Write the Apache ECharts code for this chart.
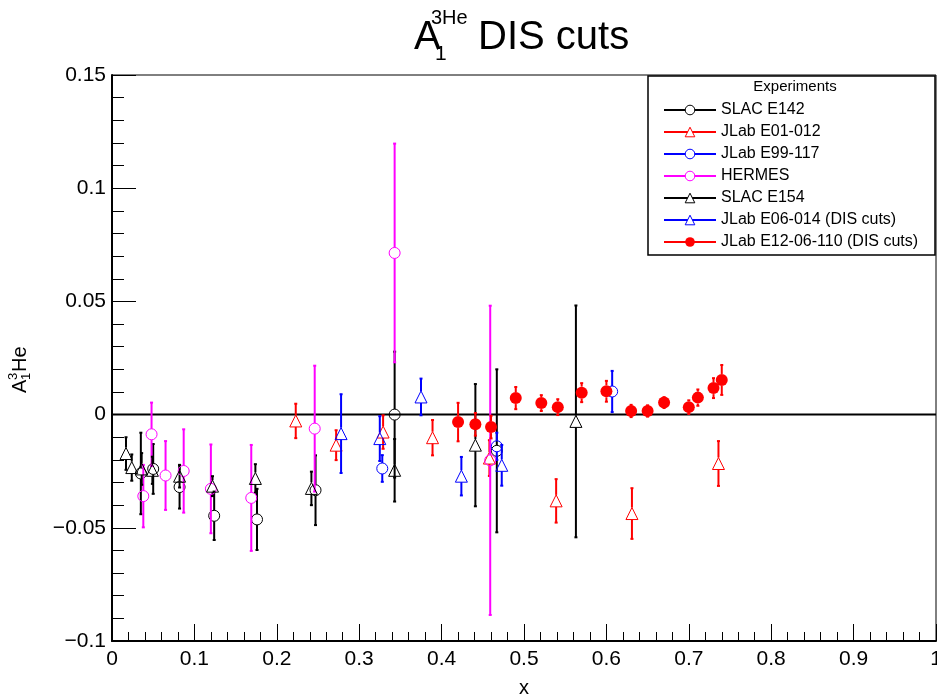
<!DOCTYPE html>
<html><head><meta charset="utf-8">
<script src="https://cdn.jsdelivr.net/npm/echarts@6/dist/echarts.min.js"></script>
<style>html,body{margin:0;padding:0;background:#fff}#c{width:937px;height:700px}</style>
</head><body><div id="c"></div>
<script>
// ---- data ----
const xTicks = [0, 0.1, 0.2, 0.3, 0.4, 0.5, 0.6, 0.7, 0.8, 0.9, 1];
const yTicks = [-0.1, -0.05, 0, 0.05, 0.1, 0.15];

const e142X = [0.035, 0.050, 0.082, 0.124, 0.176, 0.247, 0.343, 0.467];
const e142Y = [-0.026, -0.024, -0.032, -0.0447, -0.0463, -0.0334, 0.000, -0.016];
const e142E = [0.018, 0.011, 0.0095, 0.0107, 0.0135, 0.0154, 0.0278, 0.036];

const e01X = [0.223, 0.272, 0.329, 0.389, 0.458, 0.539, 0.631, 0.736];
const e01Y = [-0.0028, -0.0135, -0.0077, -0.0102, -0.0192, -0.0381, -0.0437, -0.0216];
const e01E = [0.0076, 0.0066, 0.0074, 0.0078, 0.0079, 0.0096, 0.0112, 0.0099];

const e99X = [0.328, 0.467, 0.607];
const e99Y = [-0.0238, -0.014, 0.0102];
const e99E = [0.0059, 0.006, 0.0091];

const hermesX = [0.038, 0.048, 0.065, 0.087, 0.120, 0.169, 0.246, 0.343, 0.459];
const hermesY = [-0.036, -0.0087, -0.0269, -0.0249, -0.0328, -0.0368, -0.0062, 0.0714, -0.0202];
const hermesE = [0.0138, 0.014, 0.0152, 0.0184, 0.0196, 0.0234, 0.0278, 0.0483, 0.0683];

const e154X = [0.017, 0.024, 0.036, 0.049, 0.082, 0.122, 0.174, 0.242, 0.343, 0.441, 0.563];
const e154Y = [-0.0172, -0.0234, -0.024, -0.0246, -0.0272, -0.0316, -0.0282, -0.0326, -0.0246, -0.0135, -0.003];
const e154E = [0.0072, 0.0058, 0.007, 0.006, 0.005, 0.0044, 0.0063, 0.0074, 0.0138, 0.027, 0.0512];

const e06X = [0.278, 0.325, 0.375, 0.424, 0.473];
const e06Y = [-0.0084, -0.0106, 0.0078, -0.0272, -0.0224];
const e06E = [0.0174, 0.0099, 0.0081, 0.0085, 0.009];

const e12X = [0.420, 0.441, 0.460, 0.490, 0.521, 0.541, 0.570, 0.600, 0.630, 0.650, 0.670, 0.700, 0.711, 0.730, 0.740];
const e12Y = [-0.0033, -0.0043, -0.0055, 0.0073, 0.0051, 0.0033, 0.0097, 0.0103, 0.0016, 0.0016, 0.0053, 0.0033, 0.0075, 0.0117, 0.0153];
const e12E = [0.0085, 0.005, 0.005, 0.0049, 0.0035, 0.0035, 0.0042, 0.0046, 0.0027, 0.0025, 0.0024, 0.003, 0.0036, 0.0044, 0.0066];

const FONT = '"Liberation Sans", Arial, Helvetica, sans-serif';

// ---- builders ----
const experiments = [
  {name:'SLAC E142', x:e142X, y:e142Y, e:e142E, color:'#000000', symbol:'circle', filled:false, size:11},
  {name:'JLab E01-012', x:e01X, y:e01Y, e:e01E, color:'#ff0000', symbol:'triangle', filled:false, size:12},
  {name:'JLab E99-117', x:e99X, y:e99Y, e:e99E, color:'#0000ff', symbol:'circle', filled:false, size:11},
  {name:'HERMES', x:hermesX, y:hermesY, e:hermesE, color:'#ff00ff', symbol:'circle', filled:false, size:11},
  {name:'SLAC E154', x:e154X, y:e154Y, e:e154E, color:'#000000', symbol:'triangle', filled:false, size:12},
  {name:'JLab E06-014 (DIS cuts)', x:e06X, y:e06Y, e:e06E, color:'#0000ff', symbol:'triangle', filled:false, size:12},
  {name:'JLab E12-06-110 (DIS cuts)', x:e12X, y:e12Y, e:e12E, color:'#ff0000', symbol:'circle', filled:true, size:12}
];

function errSeries(ex, z) {
  const gap = ex.size / 2;
  return {
    type:'custom', name: ex.name + ' err', silent:true, z:z,
    data: ex.x.map((x,i)=>[x, ex.y[i], ex.e[i]]),
    encode:{x:0, y:1},
    renderItem(params, api) {
      const x = api.value(0), y = api.value(1), e = api.value(2);
      const c = api.coord([x, y]), t = api.coord([x, y + e]), b = api.coord([x, y - e]);
      const st = {stroke: ex.color, lineWidth: 2};
      const ch = [];
      if (t[1] < c[1] - gap) ch.push({type:'line', shape:{x1:c[0], y1:t[1], x2:c[0], y2:c[1]-gap}, style:st});
      if (b[1] > c[1] + gap) ch.push({type:'line', shape:{x1:c[0], y1:c[1]+gap, x2:c[0], y2:b[1]}, style:st});
      ch.push({type:'line', shape:{x1:c[0]-1.5, y1:t[1], x2:c[0]+1.5, y2:t[1]}, style:st});
      ch.push({type:'line', shape:{x1:c[0]-1.5, y1:b[1], x2:c[0]+1.5, y2:b[1]}, style:st});
      return {type:'group', children: ch};
    }
  };
}
function markSeries(ex, z) {
  return {
    type:'line', name: ex.name, z:z,
    data: ex.x.map((x,i)=>[x, ex.y[i]]),
    symbol: ex.symbol, symbolSize: ex.size, showAllSymbol:true,
    lineStyle:{color: ex.color, width:2, opacity:0},
    itemStyle:{color: ex.filled ? ex.color : 'rgba(255,255,255,0)', borderColor: ex.color, borderWidth: ex.filled ? 0 : 1, opacity:1},
    emphasis:{disabled:true}, silent:true
  };
}

const series = [{
  type:'line', name:'zero', data:[[0,0],[1,0]], symbol:'none', silent:true, z:1,
  lineStyle:{color:'#000', width:2}
}];
experiments.forEach((ex, i) => {
  series.push(errSeries(ex, 2 + i));
  series.push(markSeries(ex, 3 + i));
});

const minus = v => String(v).replace('-', '\u2212');

const chart = echarts.init(document.getElementById('c'), null, {renderer:'canvas'});
chart.setOption({
  animation:false,
  backgroundColor:'#fff',
  grid:{left:112, right:1, top:75, bottom:59, show:true, borderColor:'#000', borderWidth:1,
    containLabel:false, outerBoundsMode:'none'},
  xAxis:{type:'value', min:xTicks[0], max:xTicks[xTicks.length-1], interval:0.1,
    axisLine:{onZero:false, lineStyle:{color:'#000', width:2}},
    axisTick:{inside:true, length:17, lineStyle:{color:'#000', width:1}},
    minorTick:{show:true, splitNumber:5, length:9, lineStyle:{color:'#000', width:1}},
    splitLine:{show:false},
    axisLabel:{color:'#000', fontSize:21, fontFamily:FONT, margin:8, formatter: minus, hideOverlap:false},
    name:'x', nameLocation:'middle', nameGap:37,
    nameTextStyle:{color:'#000', fontSize:20, fontFamily:FONT}
  },
  yAxis:{type:'value', min:yTicks[0], max:yTicks[yTicks.length-1], interval:0.05,
    axisLine:{onZero:false, lineStyle:{color:'#000', width:2}},
    axisTick:{inside:true, length:24, lineStyle:{color:'#000', width:1}},
    minorTick:{show:true, splitNumber:5, length:12, lineStyle:{color:'#000', width:1}},
    splitLine:{show:false},
    axisLabel:{color:'#000', fontSize:21, fontFamily:FONT, margin:6, formatter: minus}
  },
  legend:{
    orient:'vertical', left:658, top:97, z:5,
    itemWidth:52, itemHeight:12, itemGap:6, selectedMode:false,
    textStyle:{color:'#000', fontSize:16, fontFamily:FONT},
    lineStyle:{opacity:1, width:2},
    data: experiments.map(ex => ({name: ex.name,
      itemStyle: ex.filled ? {color: ex.color, opacity:1} : {color:'#fff', borderColor: ex.color, borderWidth:1, opacity:1}}))
  },
  graphic:[
    {type:'rect', z:4, shape:{x:648, y:76, width:287, height:179}, style:{fill:'#fff', stroke:'#000', lineWidth:1.5}},
    {type:'text', z:5, x:795, y:87, style:{text:'Experiments', font:'15px ' + FONT, fill:'#000', align:'center', verticalAlign:'middle'}},
    {type:'text', x:414, y:38, style:{text:'A', font:'40px ' + FONT, fill:'#000', verticalAlign:'middle'}},
    {type:'text', x:431, y:18, style:{text:'3He', font:'20px ' + FONT, fill:'#000', verticalAlign:'middle'}},
    {type:'text', x:435, y:54, style:{text:'1', font:'21px ' + FONT, fill:'#000', verticalAlign:'middle'}},
    {type:'text', x:478, y:38, style:{text:'DIS cuts', font:'40px ' + FONT, fill:'#000', verticalAlign:'middle'}},
    {type:'group', x:27, y:393, rotation:Math.PI/2, children:[
      {type:'text', x:0, y:-7, style:{text:'A', font:'20px ' + FONT, fill:'#000', verticalAlign:'middle'}},
      {type:'text', x:13, y:-0.5, style:{text:'1', font:'13px ' + FONT, fill:'#000', verticalAlign:'middle'}},
      {type:'text', x:13, y:-13.5, style:{text:'3', font:'13px ' + FONT, fill:'#000', verticalAlign:'middle'}},
      {type:'text', x:21, y:-7, style:{text:'He', font:'20px ' + FONT, fill:'#000', verticalAlign:'middle'}}
    ]}
  ],
  series: series
});
</script>
</body></html>
